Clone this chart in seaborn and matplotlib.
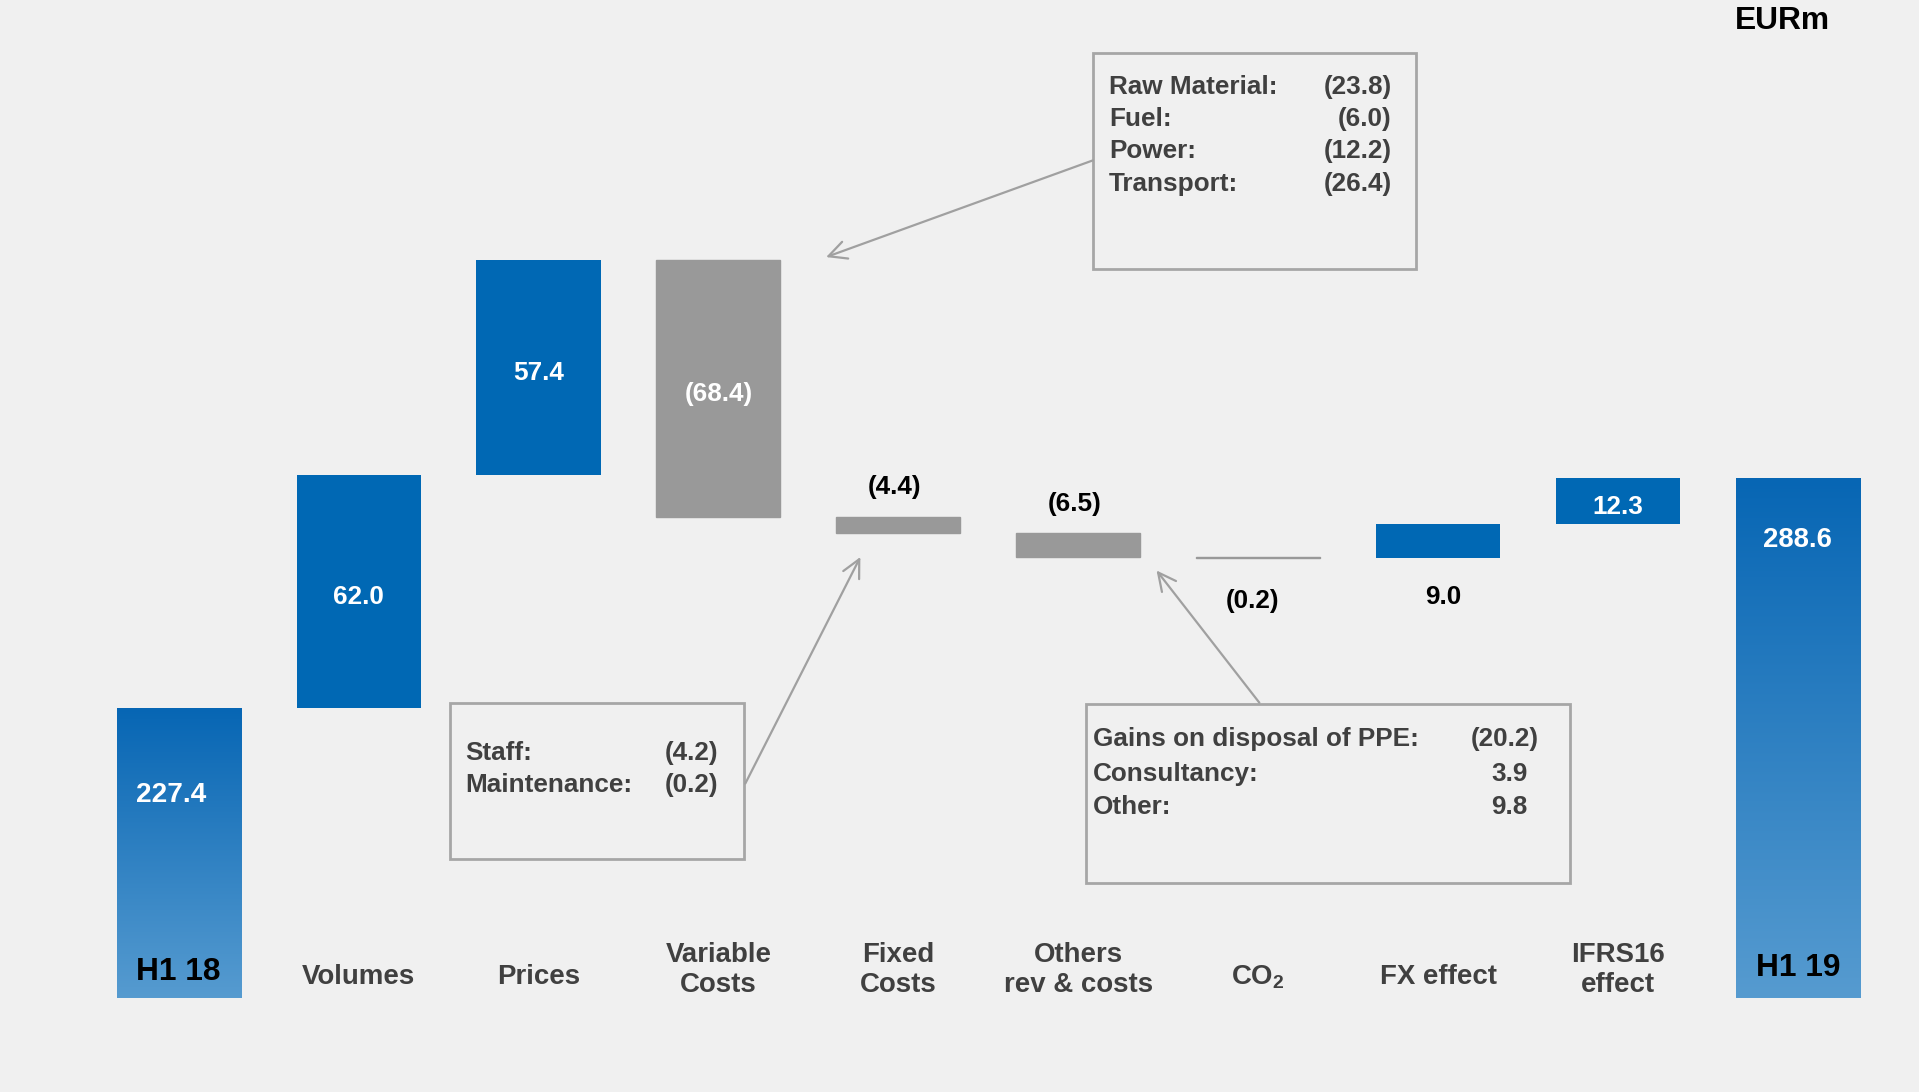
import numpy as np
import pandas as pd
import matplotlib.pyplot as plt
import seaborn as sns
from matplotlib.colors import LinearSegmentedColormap

# data
categories = ["H1 18", "Volumes", "Prices", "Variable\nCosts", "Fixed\nCosts",
              "Others\nrev & costs", "CO$_\\mathbf{2}$", "FX effect", "IFRS16\neffect", "H1 19"]
start_value = 227.4
end_value = 288.6
changes = [62.0, 57.4, -68.4, -4.4, -6.5, -0.2, 9.0, 12.3]
baseline = 150.0

var_costs = [("Raw Material:", "(23.8)"), ("Fuel:", "(6.0)"),
             ("Power:", "(12.2)"), ("Transport:", "(26.4)")]
fixed_costs = [("Staff:", "(4.2)"), ("Maintenance:", "(0.2)")]
other_costs = [("Gains on disposal of PPE:", "(20.2)"), ("Consultancy:", "3.9"),
               ("Other:", "9.8")]

BLUE = "#0068B4"
GREY = "#999999"
BG = "#F0F0F0"
TXT = "#404040"

sns.set_theme(style="white")
plt.rcParams["font.family"] = ["Liberation Sans", "DejaVu Sans"]
plt.rcParams["mathtext.fontset"] = "custom"
plt.rcParams["mathtext.rm"] = "Liberation Sans"
plt.rcParams["mathtext.bf"] = "Liberation Sans:bold"

# waterfall geometry from the values
level = np.cumsum([start_value] + changes)
tops, bottoms = [start_value], [baseline]
for i, c in enumerate(changes):
    before, after = level[i], level[i + 1]
    tops.append(max(before, after))
    bottoms.append(min(before, after))
tops.append(end_value)
bottoms.append(baseline)

df = pd.DataFrame({"cat": categories, "top": tops, "bottom": bottoms})
df["height"] = df["top"] - df["bottom"]

fig = plt.figure(figsize=(19.19, 10.92), dpi=100, facecolor=BG)
ax = fig.add_axes([0, 0, 1, 1])
ax.set_facecolor(BG)

sns.barplot(data=df, x="cat", y="height", order=categories, bottom=df["bottom"].values,
            width=0.69, color=BLUE, saturation=1, errorbar=None, ax=ax, linewidth=0)

cmap = LinearSegmentedColormap.from_list("g", ["#569BD0", "#0766B4"])
grad = np.linspace(0, 1, 256).reshape(-1, 1)
for i, patch in enumerate(ax.patches):
    if i in (0, len(categories) - 1):
        x0, y0 = patch.get_x(), patch.get_y()
        im = ax.imshow(grad, cmap=cmap, aspect="auto", origin="lower",
                       extent=[x0, x0 + patch.get_width(), y0, y0 + patch.get_height()],
                       zorder=patch.get_zorder() + 0.1)
        im.set_clip_path(patch)
    elif changes[i - 1] < 0:
        patch.set_facecolor(GREY)
        patch.set_edgecolor(GREY)
        patch.set_linewidth(1)

ax.set_xlim(-0.993, 9.673)
ax.set_ylim(124.8, 416.3)
ax.set_axis_off()

VA = "center_baseline"

# value labels
ax.text(0 - 0.04, start_value - 22.5, f"{start_value:.1f}", color="white",
        fontsize=20.2, fontweight="bold", ha="center", va=VA)
ax.text(9, end_value - 15.7, f"{end_value:.1f}", color="white",
        fontsize=19.8, fontweight="bold", ha="center", va=VA)
ax.text(0, 157.8, "H1 18", color="black", fontsize=22.8, fontweight="bold",
        ha="center", va=VA)
ax.text(9, 158.8, "H1 19", color="black", fontsize=22.8, fontweight="bold",
        ha="center", va=VA)


def fmt(v):
    return f"({abs(v):.1f})" if v < 0 else f"{v:.1f}"


for i, c in enumerate(changes, start=1):
    t, b = tops[i], bottoms[i]
    kw = dict(fontsize=18.8, fontweight="bold", ha="center", va=VA)
    if i in (1, 2, 3, 8):
        ax.text(i, (t + b) / 2 - 0.8, fmt(c), color="white", **kw)
    elif i in (4, 5):
        ax.text(i - 0.02, t + 8.5, fmt(c), color="black", **kw)
    elif i == 6:
        ax.text(i - 0.034, b - 10.8, fmt(c), color="black", **kw)
    else:
        ax.text(i + 0.03, b - 9.8, fmt(c), color="black", **kw)

# category labels
xt = ax.get_xaxis_transform()
for i, name in enumerate(categories):
    if i in (0, len(categories) - 1):
        continue
    if "\n" in name:
        ax.text(i, 0.1115, name, transform=xt, color=TXT, fontsize=19.9,
                fontweight="bold", ha="center", va="center", linespacing=1.2)
    else:
        ax.text(i, 0.108, name, transform=xt, color=TXT, fontsize=19.9,
                fontweight="bold", ha="center", va=VA)

ax.text(0.929, 0.984, "EURm", transform=ax.transAxes, color="black", fontsize=22.9,
        fontweight="bold", ha="center", va=VA)


# callout boxes
def callout(rows, box, xl, xr, ys, arrow_from, arrow_to, paren_shift=0.0):
    x0, y0, x1, y1 = box
    ax.add_patch(plt.Rectangle((x0, y0), x1 - x0, y1 - y0, transform=ax.transAxes,
                               fill=False, edgecolor="#A6A6A6", linewidth=2))
    for (lab, val), y in zip(rows, ys):
        ax.text(xl, y, lab, transform=ax.transAxes, color=TXT, fontsize=18.8,
                fontweight="bold", ha="left", va=VA)
        shift = 0.0 if val.endswith(")") else paren_shift
        ax.text(xr - shift, y, val, transform=ax.transAxes, color=TXT, fontsize=18.8,
                fontweight="bold", ha="right", va=VA)
    ax.annotate("", xy=arrow_to, xytext=arrow_from, xycoords="axes fraction",
                textcoords="axes fraction",
                arrowprops=dict(arrowstyle="->", color="#A0A0A0", lw=1.6,
                                mutation_scale=32, shrinkA=0, shrinkB=0))


W, H = 1568.0, 892.0
callout(var_costs, (893 / W, 1 - 220 / H, 1157 / W, 1 - 43 / H), 906 / W, 1137 / W,
        [1 - y / H for y in (69, 95, 121, 148)], (893 / W, 1 - 131 / H), (675 / W, 1 - 210 / H))
callout(fixed_costs, (368 / W, 1 - 702 / H, 608 / W, 1 - 574 / H), 380 / W, 587 / W,
        [1 - y / H for y in (613, 639)], (609 / W, 1 - 640 / H), (703 / W, 1 - 455 / H))
callout(other_costs, (887 / W, 1 - 721 / H, 1283 / W, 1 - 575 / H), 893 / W, 1257 / W,
        [1 - y / H for y in (602, 630, 657)], (1029 / W, 1 - 574 / H), (945 / W, 1 - 466 / H),
        paren_shift=9 / W)

fig.savefig("out.png", dpi=100, facecolor=BG)
